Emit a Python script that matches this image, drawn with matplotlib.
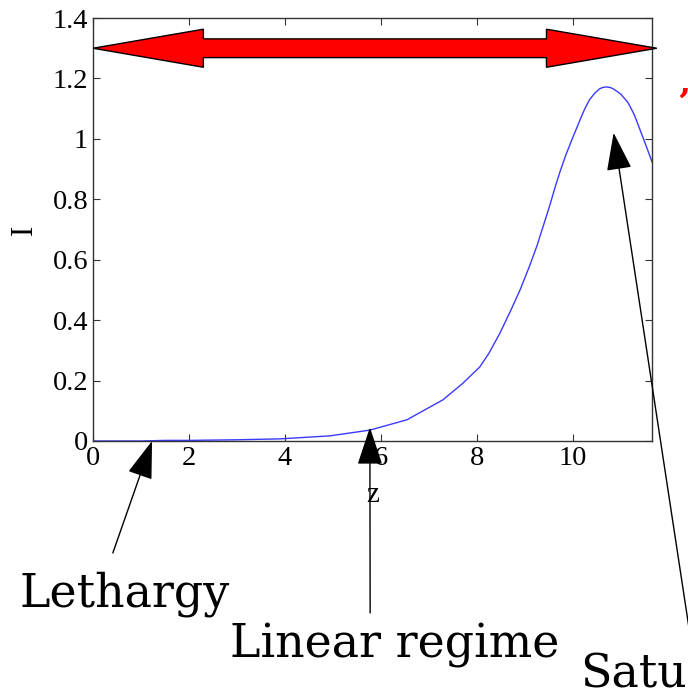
import numpy as np
import matplotlib
matplotlib.use("Agg")
import matplotlib.pyplot as plt
from matplotlib.patches import Polygon

# curve
z = [0, 1.0, 1.5, 2.0, 3.0, 3.9, 4.94, 5.77, 6.54, 7.29, 7.7, 8.06, 8.25,
     8.48, 8.7, 8.9, 9.1, 9.25, 9.4, 9.52, 9.63, 9.73, 9.85, 10.0, 10.15,
     10.25, 10.35, 10.45, 10.55, 10.62, 10.7, 10.78, 10.85, 11.0, 11.15,
     11.28, 11.4, 11.52, 11.65]
I = [0, 0.0, 0.002, 0.002, 0.004, 0.007, 0.017, 0.036, 0.07, 0.136, 0.19,
     0.245, 0.29, 0.357, 0.43, 0.5, 0.58, 0.645, 0.72, 0.78, 0.84, 0.89,
     0.945, 1.005, 1.063, 1.10, 1.13, 1.15, 1.165, 1.17, 1.172, 1.17, 1.165,
     1.148, 1.12, 1.08, 1.03, 0.98, 0.924]

xticks = [0, 2, 4, 6, 8, 10]
yticks = [0, 0.2, 0.4, 0.6, 0.8, 1, 1.2, 1.4]
ytick_labels = ["0", "0.2", "0.4", "0.6", "0.8", "1", "1.2", "1.4"]

fig = plt.figure(figsize=(6.88, 6.96), dpi=100)
ax = fig.add_axes([0.1352, 0.3664, 0.8125, 0.6077])

ax.plot(z, I, color="#3a3aff", lw=1.0)
ax.set_xlim(0, 11.65)
ax.set_ylim(0, 1.4)
ax.set_xticks(xticks)
ax.set_yticks(yticks)
ax.set_yticklabels(ytick_labels)
ax.tick_params(direction="in", length=5, top=True, right=True,
               labelsize=20.5, colors="#333333", labelcolor="black")
for lab in ax.get_xticklabels() + ax.get_yticklabels():
    lab.set_family("Liberation Serif")
for s in ax.spines.values():
    s.set_color("#333333")
    s.set_linewidth(1.0)
ax.set_xlabel("z", family="Liberation Serif", fontsize=21, labelpad=8)
ax.set_ylabel("I", family="Liberation Serif", fontsize=22, labelpad=10)

# red double-headed arrow
x0, x1, yc = 0.0, 11.75, 1.3
hl, hhw, shw = 2.3, 0.063, 0.031
verts = [(x0, yc), (x0 + hl, yc + hhw), (x0 + hl, yc + shw), (x1 - hl, yc + shw),
         (x1 - hl, yc + hhw), (x1, yc), (x1 - hl, yc - hhw), (x1 - hl, yc - shw),
         (x0 + hl, yc - shw), (x0 + hl, yc - hhw)]
ax.add_patch(Polygon(verts, closed=True, facecolor="red", edgecolor="black",
                     lw=1.0, clip_on=False, zorder=5))

# annotation arrows
aprops = dict(arrowstyle="-|>,head_length=1.2,head_width=0.4", mutation_scale=20,
              color="black", lw=1.0, shrinkA=0, shrinkB=0)
ax.annotate("", xy=(1.23, 0.0), xycoords="data", xytext=(0.164, 0.2055),
            textcoords="figure fraction", arrowprops=aprops, annotation_clip=False)
ax.annotate("", xy=(5.77, 0.045), xycoords="data", xytext=(0.538, 0.1193),
            textcoords="figure fraction", arrowprops=aprops, annotation_clip=False)
ax.annotate("", xy=(10.85, 1.02), xycoords="data", xytext=(1.003, 0.0876),
            textcoords="figure fraction", arrowprops=aprops, annotation_clip=False)

big = dict(family="DejaVu Serif", fontsize=33, color="black")
fig.text(0.029, 0.128, "Lethargy", ha="left", va="baseline", **big)
fig.text(0.334, 0.056, "Linear regime", ha="left", va="baseline", **big)
fig.text(0.843, 0.012, "Saturation", ha="left", va="baseline", **big)
fig.text(0.984, 0.836, "\u2019\u2019", ha="left", va="baseline",
         family="DejaVu Serif", fontsize=26, fontweight="bold", color="red")

fig.savefig("out.png", dpi=100)
